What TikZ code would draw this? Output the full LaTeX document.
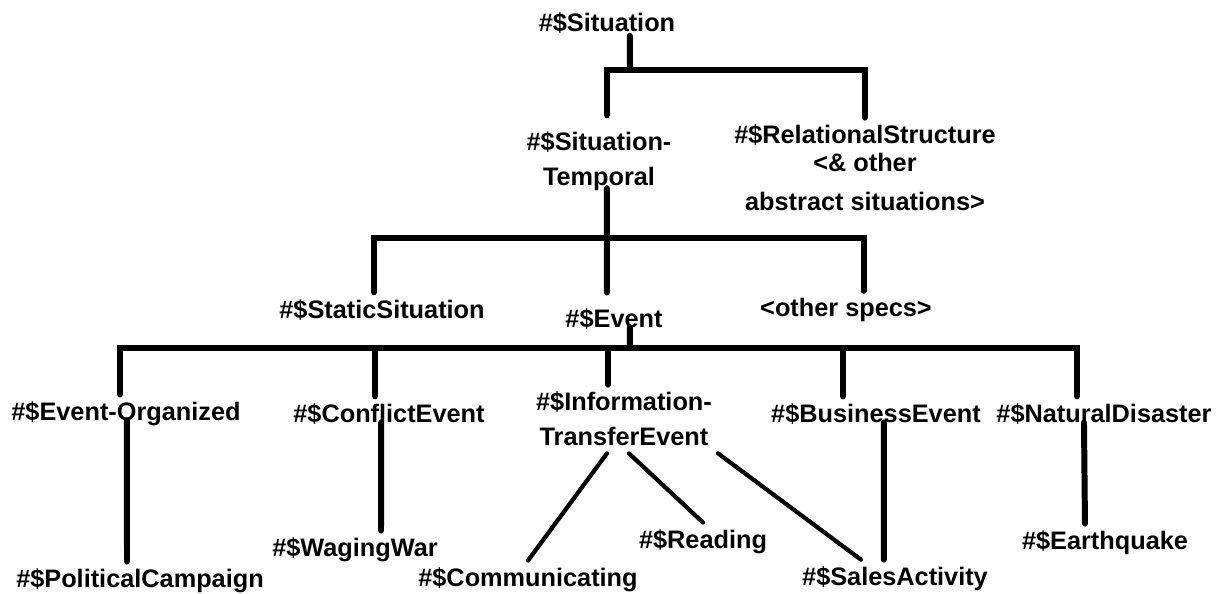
\documentclass[tikz,border=0pt]{standalone}
\usepackage{fontspec}
\setmainfont{Liberation Sans}
\usepackage{tikz}

\begin{document}
\begin{tikzpicture}[x=0.02cm, y=-0.02cm,
	lbl/.style={font=\bfseries\fontsize{14.4}{19.9}\selectfont, align=center, inner xsep=1pt, inner ysep=4pt},
	tree/.style={line width=3.4pt, line cap=round},
	twig/.style={line width=2.4pt, line cap=round}]
	\useasboundingbox (0,0) rectangle (1216,594);
	
	\node[lbl](Sit) at (607,23){\#\$Situation};
	\node[lbl](STemp) at (599,161){\#\$Situation-\\Temporal};
	\node[lbl](Rel) at (865,168){\#\$RelationalStructure\\[-4pt]<\& other\\[2.3pt]abstract situations>};
	
	\node[lbl](Stat) at (382,310){\#\$StaticSituation};
	\node[lbl](Evt) at (614,319){\#\$Event};
	\node[lbl](Oth) at (846,310){<other specs>};
	
	\node[lbl](EOrg) at (126,414){\#\$Event-Organized};
	\node[lbl](Confl) at (389,414){\#\$ConflictEvent};
	\node[lbl](Info) at (624,419){\#\$Information-\\TransferEvent};
	\node[lbl](Bus) at (876,414){\#\$BusinessEvent};
	\node[lbl](Nat) at (1104,414){\#\$NaturalDisaster};
	
	\node[lbl](Pol) at (140,581){\#\$PoliticalCampaign};
	\node[lbl](War) at (355,550){\#\$WagingWar};
	\node[lbl](Comm) at (528,580){\#\$Communicating};
	\node[lbl](Read) at (703,542){\#\$Reading};
	\node[lbl](Sales) at (895,579){\#\$SalesActivity};
	\node[lbl](Quake) at (1105,543){\#\$Earthquake};
	
	\coordinate (J1) at (630,70);
	\coordinate (J2) at (607,238);
	\coordinate (J3) at (630,348);
	
	\draw[tree] ([xshift=13pt,yshift=-2.5pt]Sit.base) -- (J1);
	\draw[tree] ([xshift=4.5pt,yshift=5pt]STemp.north) |- (J1) -| (Rel.north);
	
	\draw[tree] ([xshift=4.5pt,yshift=5.5pt]STemp.south) -- ([xshift=-4pt,yshift=5pt]Evt.north);
	\draw[tree] ([xshift=-4.5pt]Stat.north) |- (J2) -| ([xshift=10pt]Oth.north);
	
	\draw[tree] ([xshift=9pt]Evt.base) -- (J3);
	\draw[tree] ([xshift=-3.4pt]EOrg.north) |- (J3) -| ([xshift=-15.4pt]Nat.north);
	\draw[tree] ([xshift=-8pt]Confl.north) |- (J3);
	\draw[tree] ([xshift=-9.1pt]Info.north) |- (J3);
	\draw[tree] ([xshift=-18.8pt]Bus.north) |- (J3);
	
	\draw[tree] ([xshift=0.5pt]EOrg.base) -- ([xshift=-7.4pt]Pol.north);
	\draw[tree] ([xshift=-4.5pt]Confl.base) -- ([xshift=14.8pt]War.north);
	\draw[tree] ([xshift=4.5pt]Bus.base) -- ([xshift=-6.3pt]Sales.north);
	\draw[tree] ([xshift=-11.4pt]Nat.base) -- ([xshift=-11.4pt]Quake.north);
	
	\draw[twig] ([xshift=-9.7pt]Info.south) -- (Comm.north);
	\draw[twig] ([xshift=2.8pt]Info.south) -- (Read.north);
	\draw[twig] ([xshift=53.5pt]Info.south) -- ([xshift=-19.4pt]Sales.north);
\end{tikzpicture}
\end{document}
